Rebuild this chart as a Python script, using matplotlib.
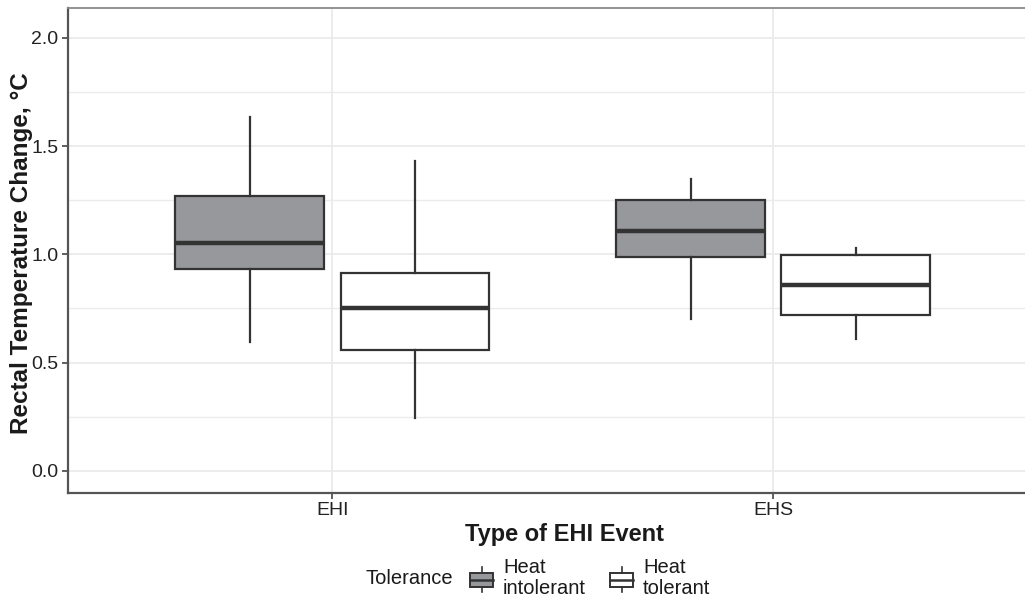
import matplotlib
matplotlib.use("Agg")
import matplotlib.pyplot as plt
from matplotlib.patches import Rectangle

plt.rcParams["font.family"] = ["Liberation Sans", "DejaVu Sans"]

# ---- data ----
events = ["EHI", "EHS"]
groups = ["Heat intolerant", "Heat tolerant"]
# per event: [intolerant, tolerant]
whisker_low = {"EHI": [0.597, 0.246], "EHS": [0.700, 0.609]}
q1 = {"EHI": [0.930, 0.557], "EHS": [0.989, 0.718]}
median = {"EHI": [1.053, 0.750], "EHS": [1.109, 0.860]}
q3 = {"EHI": [1.269, 0.915], "EHS": [1.252, 0.998]}
whisker_high = {"EHI": [1.635, 1.432], "EHS": [1.346, 1.028]}

fills = ["#97989c", "#ffffff"]
edge = "#333333"
dodge = 0.1875
box_w = 0.3375

fig = plt.figure(figsize=(10.25, 5.99), dpi=100)
ax = fig.add_axes([0.0663, 0.1776, 0.946, 0.8085])

for i, ev in enumerate(events):
    for j, g in enumerate(groups):
        stats = [{
            "whislo": whisker_low[ev][j], "q1": q1[ev][j], "med": median[ev][j],
            "q3": q3[ev][j], "whishi": whisker_high[ev][j], "fliers": [],
        }]
        pos = i + 1 + (-dodge if j == 0 else dodge)
        ax.bxp(stats, positions=[pos], widths=box_w, patch_artist=True,
               showcaps=False, manage_ticks=False,
               boxprops=dict(facecolor=fills[j], edgecolor=edge, linewidth=1.6),
               whiskerprops=dict(color=edge, linewidth=1.6),
               medianprops=dict(color=edge, linewidth=3.2, solid_capstyle="butt"))

ax.set_xlim(0.4, 2.6)
ax.set_ylim(-0.1007, 2.136)
ax.set_xticks([1, 2])
ax.set_xticklabels(events)
ax.set_yticks([0, 0.5, 1.0, 1.5, 2.0])
ax.set_yticklabels(["0.0", "0.5", "1.0", "1.5", "2.0"])
ax.set_yticks([0.25, 0.75, 1.25, 1.75], minor=True)
ax.tick_params(axis="both", which="major", labelsize=14, length=4, width=1.2,
               color="#444444", labelcolor="#222222", pad=3)
ax.tick_params(axis="y", which="minor", length=0)

ax.grid(True, which="major", color="#ebebeb", linewidth=1.3)
ax.grid(True, which="minor", axis="y", color="#ebebeb", linewidth=1.0)
ax.set_axisbelow(True)

ax.spines["top"].set_color("#8a8a8a")
ax.spines["top"].set_linewidth(1.3)
for s in ("left", "bottom"):
    ax.spines[s].set_color("#555555")
    ax.spines[s].set_linewidth(1.6)
ax.spines["right"].set_visible(False)

ax.set_xlabel("Type of EHI Event", fontsize=17, fontweight="bold",
              color="#1a1a1a", va="center")
ax.xaxis.set_label_coords(0.512, -0.0875)
ax.set_ylabel("Rectal Temperature Change, °C", fontsize=17.5, fontweight="bold",
              color="#1a1a1a", va="center")
ax.yaxis.set_label_coords(-0.0474, 0.494)

# ---- legend drawn in pixel space below the panel ----
lg = fig.add_axes([0, 0, 1, 1])
lg.set_xlim(0, 1025)
lg.set_ylim(599, 0)
lg.axis("off")
lg.text(365, 578, "Tolerance", fontsize=14.5, color="#1a1a1a", va="center", ha="left")
key_x = [470, 610]
for j, g in enumerate(groups):
    x0 = key_x[j]
    lg.plot([x0 + 11.5, x0 + 11.5], [567, 573], color=edge, linewidth=1.2)
    lg.plot([x0 + 11.5, x0 + 11.5], [587, 592], color=edge, linewidth=1.2)
    lg.add_patch(Rectangle((x0, 573), 23, 14, facecolor=fills[j],
                           edgecolor=edge, linewidth=1.4))
    lg.plot([x0, x0 + 23], [580, 580], color=edge, linewidth=1.8)
    lg.text(x0 + 33, 578, g.replace(" ", "\n"), fontsize=14.5, color="#1a1a1a",
            va="center", ha="left", linespacing=1.12)

fig.savefig("out.png", dpi=100, facecolor="white")
